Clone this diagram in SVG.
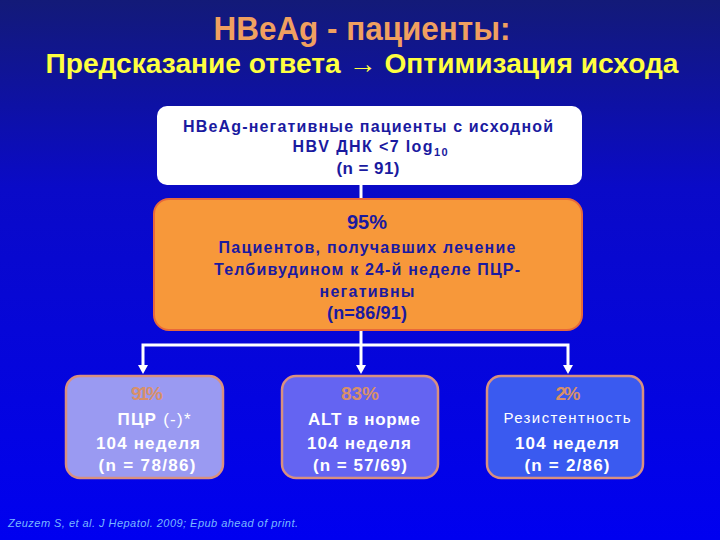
<svg xmlns="http://www.w3.org/2000/svg" width="720" height="540" viewBox="0 0 720 540">
<defs>
<linearGradient id="bg" x1="0" y1="0" x2="0" y2="1">
<stop offset="0" stop-color="#131a78"/>
<stop offset="0.35" stop-color="#0a0ac8"/>
<stop offset="1" stop-color="#0000f0"/>
</linearGradient>
<style>
.t{font-family:"Liberation Sans",Arial,sans-serif;font-weight:bold;text-anchor:middle}
.n{font-family:"Liberation Sans Narrow","Liberation Sans",Arial,sans-serif;font-weight:bold;text-anchor:middle}
.dk{fill:#1a1aa0;font-size:16px}
.wt{fill:#ffffff;font-size:17px}
.pc{fill:#d8906a;font-size:19px}
.rg{font-weight:normal}
.conn{stroke:#ffffff;stroke-width:3;fill:none}
.sb{stroke:#d89080;stroke-width:2.5}
</style>
</defs>
<rect width="720" height="540" fill="url(#bg)"/>
<text class="n" x="362" y="40" font-size="33" fill="#f0a060" textLength="297" lengthAdjust="spacingAndGlyphs">HBeAg - пациенты:</text>
<text class="n" x="362" y="73" font-size="27" fill="#ffff40" textLength="633" lengthAdjust="spacingAndGlyphs">Предсказание ответа → Оптимизация исхода</text>

<g id="connectors">
<line class="conn" x1="361" y1="185" x2="361" y2="204"/>
<path d="M356,203 L366,203 L361,211 z" fill="#ffffff"/>
<polyline class="conn" points="361,330 361,345"/>
<polyline class="conn" points="143,366 143,345 568,345 568,366"/>
<line class="conn" x1="361" y1="345" x2="361" y2="366"/>
<path d="M138,365 L148,365 L143,374 z" fill="#ffffff"/>
<path d="M356,365 L366,365 L361,374 z" fill="#ffffff"/>
<path d="M563,365 L573,365 L568,374 z" fill="#ffffff"/>
</g>

<g id="start">
<rect x="157" y="106" width="425" height="79" rx="10" fill="#ffffff"/>
<text class="t dk" x="368" y="132" textLength="370">HBeAg-негативные пациенты с исходной</text>
<text class="t dk" x="370" y="152" textLength="155">HBV ДНК &lt;7 log<tspan style="font-size:11px" dy="4">10</tspan></text>
<text class="t dk" x="368" y="174" style="font-size:17px" textLength="63">(n = 91)</text>
</g>

<g id="response">
<rect x="154" y="199" width="428" height="131" rx="15" fill="#f7983a" stroke="#e8683a" stroke-width="2"/>
<text class="t dk" x="367" y="229" style="font-size:20px" textLength="40">95%</text>
<text class="t dk" x="367" y="253" textLength="297">Пациентов, получавших лечение</text>
<text class="t dk" x="367" y="275" textLength="306">Телбивудином к 24-й неделе ПЦР-</text>
<text class="t dk" x="367" y="297" textLength="95">негативны</text>
<text class="t dk" x="367" y="319" style="font-size:18px" textLength="80">(n=86/91)</text>
</g>

<g id="pcr">
<rect x="66" y="376" width="157" height="102" rx="14" fill="#9a9af2" class="sb"/>
<text class="t pc" x="147" y="400" textLength="32">91%</text>
<text class="t wt" x="154" y="425" textLength="73">ПЦР <tspan class="rg">(-)*</tspan></text>
<text class="t wt" x="148" y="449" textLength="104">104 неделя</text>
<text class="t wt" x="147" y="471" textLength="97">(n = 78/86)</text>
</g>

<g id="alt">
<rect x="282" y="376" width="156" height="102" rx="14" fill="#6464f2" class="sb"/>
<text class="t pc" x="360" y="400" textLength="38">83%</text>
<text class="t wt" x="364" y="425" textLength="112">ALT в норме</text>
<text class="t wt" x="359" y="449" textLength="104">104 неделя</text>
<text class="t wt" x="360" y="471" textLength="94">(n = 57/69)</text>
</g>

<g id="resist">
<rect x="487" y="376" width="156" height="102" rx="14" fill="#3a5af0" class="sb"/>
<text class="t pc" x="568" y="400" textLength="25">2%</text>
<text class="t wt rg" x="567" y="423" style="font-size:15px" textLength="127">Резистентность</text>
<text class="t wt" x="567" y="449" textLength="104">104 неделя</text>
<text class="t wt" x="567" y="471" textLength="85">(n = 2/86)</text>
</g>

<text x="8" y="527" font-family="Liberation Sans,Arial,sans-serif" font-style="italic" font-size="11" fill="#7ab8ff" textLength="290">Zeuzem S, et al. J Hepatol. 2009; Epub ahead of print.</text>
</svg>
